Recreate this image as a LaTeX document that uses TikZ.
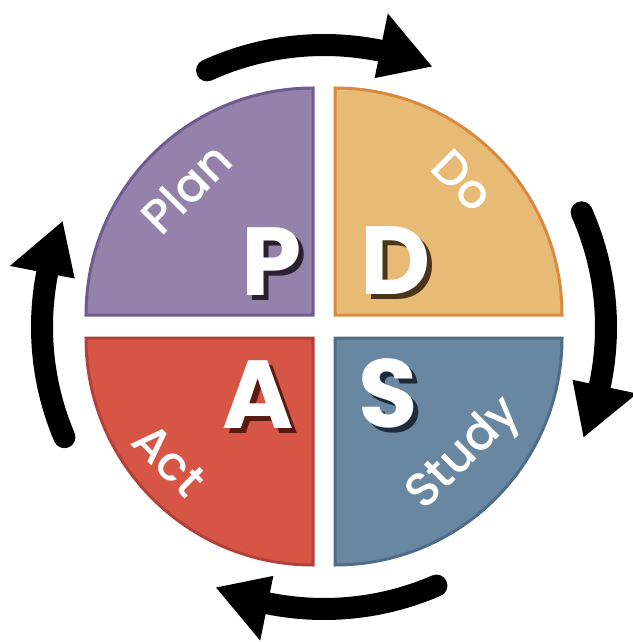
\documentclass[tikz,border=0pt]{standalone}
\usepackage{fontspec}
\setmainfont{Poppins}
\newfontfamily\wordfont{Poppins Medium}
\definecolor{planfill}{HTML}{9482AA}
\definecolor{planedge}{HTML}{6F5B8E}
\definecolor{planshadow}{HTML}{2A2032}
\definecolor{dofill}{HTML}{E7BA75}
\definecolor{doedge}{HTML}{D98A42}
\definecolor{doshadow}{HTML}{4A3518}
\definecolor{actfill}{HTML}{D75544}
\definecolor{actedge}{HTML}{B4403A}
\definecolor{actshadow}{HTML}{5A1A14}
\definecolor{studyfill}{HTML}{6A87A1}
\definecolor{studyedge}{HTML}{4F6D88}
\definecolor{studyshadow}{HTML}{1E2C3A}
\begin{document}
\begin{tikzpicture}[x=1bp,y=1bp,
  quad/.style={line width=3bp, line join=miter},
  cyc/.style={line width=22bp, line cap=round, draw=black},
  word/.style={text=white, inner sep=0pt, font=\wordfont\fontsize{48}{48}\selectfont},
  bigletter/.style={inner sep=0pt, font=\fontsize{97}{97}\selectfont\bfseries}]
\useasboundingbox (0,0) rectangle (633,-642);
\clip (0,0) rectangle (633,-642);
\fill[white] (0,0) rectangle (633,-642);
% quadrants
\coordinate (cP) at (313,-315);
\coordinate (cD) at (335,-315);
\coordinate (cA) at (313,-338);
\coordinate (cS) at (335,-338);
\filldraw[quad, fill=planfill, draw=planedge] (cP) -- ++(-227,0) arc[start angle=180, end angle=90, radius=227] -- cycle;
\filldraw[quad, fill=dofill, draw=doedge] (cD) -- ++(0,227) arc[start angle=90, end angle=0, radius=227] -- cycle;
\filldraw[quad, fill=actfill, draw=actedge] (cA) -- ++(-227,0) arc[start angle=180, end angle=270, radius=227] -- cycle;
\filldraw[quad, fill=studyfill, draw=studyedge] (cS) -- ++(227,0) arc[start angle=0, end angle=-90, radius=227] -- cycle;
% words
\node[word, rotate=45] (plan) at (186,-188) {Plan};
\node[word, rotate=-45] (do) at (463,-181) {Do};
\node[word, rotate=-45] (act) at (169,-460) {Act};
\node[word, rotate=45] (study) at (465,-455) {Study};
% big letters with shadows
\node[bigletter, text=planshadow] (Ps) at (277,-267) {P};
\node[bigletter, text=white] (P) at (272,-262) {P};
\node[bigletter, text=doshadow] (Ds) at (401,-266) {D};
\node[bigletter, text=white] (D) at (396,-261) {D};
\node[bigletter, text=actshadow] (As) at (263,-400) {A};
\node[bigletter, text=white] (A) at (258,-395) {A};
\node[bigletter, text=studyshadow] (Ss) at (393,-398) {S};
\node[bigletter, text=white] (S) at (388,-393) {S};
% cycle arrows
\begin{scope}[shift={(324,-327)}]
  \draw[cyc] (114.5:282) arc[start angle=114.5, end angle=78.5, radius=282];
  \fill[black] (78.5:320) -- (67.5:282) -- (78.5:254) -- cycle;
  \draw[cyc] (24:282) arc[start angle=24, end angle=-12, radius=282];
  \fill[black] (-12:320) -- (-23:282) -- (-12:254) -- cycle;
  \draw[cyc] (-66.5:282) arc[start angle=-66.5, end angle=-101.5, radius=282];
  \fill[black] (-101.5:320) -- (-112.5:282) -- (-101.5:254) -- cycle;
  \draw[cyc] (203:282) arc[start angle=203, end angle=169, radius=282];
  \fill[black] (169:320) -- (158:282) -- (169:254) -- cycle;
\end{scope}
\end{tikzpicture}
\end{document}
